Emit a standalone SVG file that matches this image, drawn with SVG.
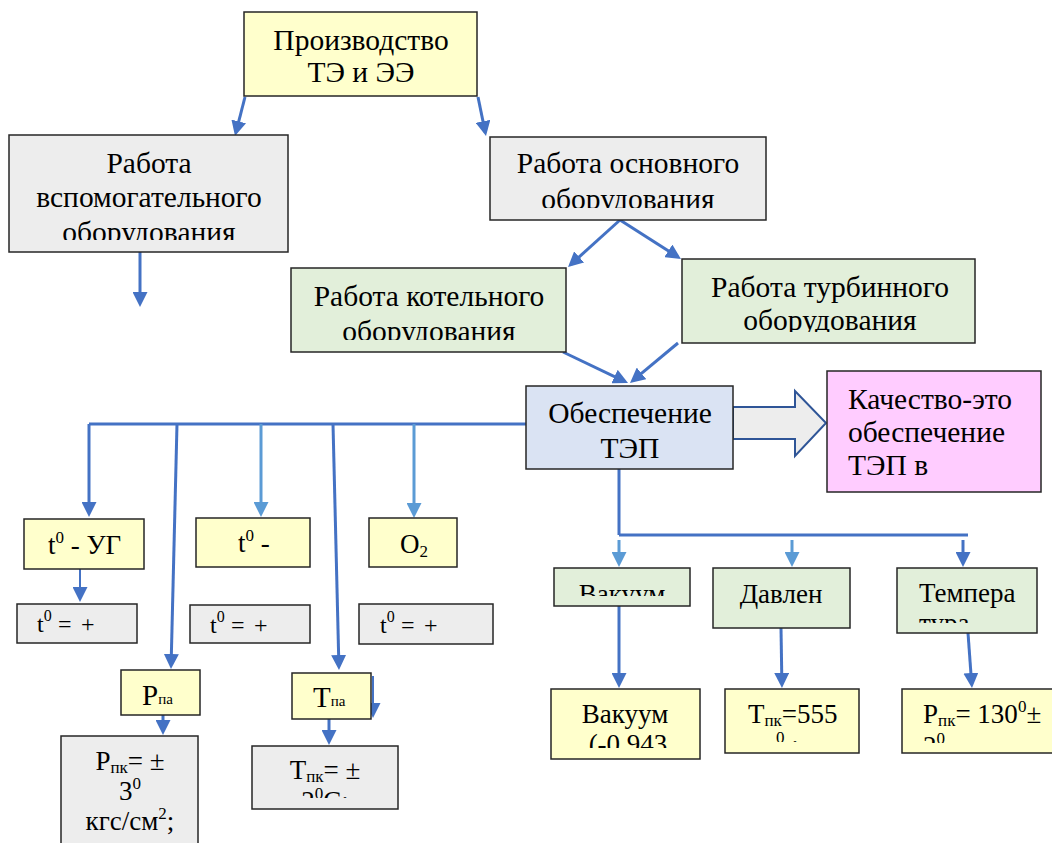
<svg xmlns="http://www.w3.org/2000/svg" width="1052" height="843" viewBox="0 0 1052 843">
<style>
.box{stroke:#262626;stroke-width:1.5}
.y{fill:#FFFFCC}.g{fill:#EDEDED}.gr{fill:#E2EFDA}.b{fill:#DAE3F3}.p{fill:#FFCCFF}
.c{stroke:#4472C4;stroke-width:3;fill:none;marker-end:url(#ad)}
.c2{stroke:#4472C4;stroke-width:2;fill:none;marker-end:url(#ad)}
.l{stroke:#5B9BD5;stroke-width:3;fill:none;marker-end:url(#al)}
.bus{stroke:#4472C4;stroke-width:3;fill:none}
</style>
<defs>
<marker id="ad" markerUnits="userSpaceOnUse" markerWidth="15" markerHeight="15" viewBox="0 0 15 15" refX="11" refY="7.5" orient="auto"><path d="M0,0L15,7.5L0,15z" fill="#4472C4"/></marker>
<marker id="al" markerUnits="userSpaceOnUse" markerWidth="15" markerHeight="15" viewBox="0 0 15 15" refX="11" refY="7.5" orient="auto"><path d="M0,0L15,7.5L0,15z" fill="#5B9BD5"/></marker>
<clipPath id="k2"><rect x="9" y="135" width="279" height="105"/></clipPath>
<clipPath id="k3"><rect x="490" y="137" width="276" height="71"/></clipPath>
<clipPath id="k4"><rect x="291" y="268" width="275" height="72"/></clipPath>
<clipPath id="k5"><rect x="682" y="259" width="293" height="73"/></clipPath>
<clipPath id="kv1"><rect x="554" y="568" width="136" height="28"/></clipPath>
<clipPath id="kt1"><rect x="897" y="568" width="140" height="55"/></clipPath>
<clipPath id="kv2"><rect x="551" y="689" width="149" height="59"/></clipPath>
<clipPath id="kt555"><rect x="725" y="689" width="134" height="53"/></clipPath>
<clipPath id="kp130"><rect x="902" y="689" width="150" height="54"/></clipPath>
<clipPath id="ktpk"><rect x="252" y="746" width="146" height="52"/></clipPath>
</defs>

<g id="connectors">
<path class="c" d="M245,97L236,132.1"/>
<path class="c" d="M478,97L485.2,132.1"/>
<path class="c" d="M140,252L140,303"/>
<path class="c" d="M620,220L571,264.3"/>
<path class="c" d="M620,220L677.6,256.8"/>
<path class="c" d="M563,352L624.4,381.3"/>
<path class="c" d="M678,343L633.1,380.4"/>
<path class="bus" d="M526,424L89,424"/>
<path class="c" d="M89,424L89,513"/>
<path class="c" d="M177,424L171.1,665"/>
<path class="l" d="M261,424L261,513"/>
<path class="c" d="M333,424L338.9,666"/>
<path class="l" d="M414,424L414,514"/>
<path class="c2" d="M80,569L80,598"/>
<path class="c" d="M163,715L163,731"/>
<path class="c2" d="M373,676L373,714"/>
<path class="c" d="M329,719L329,741"/>
<path class="bus" d="M619,469L619,535M619,535L968,535"/>
<path class="l" d="M619,540L619,563"/>
<path class="l" d="M792,540L792,563"/>
<path class="c" d="M963,540L963,563"/>
<path class="c" d="M619,606L619,684"/>
<path class="c" d="M781,628L781.9,684"/>
<path class="c" d="M968,633L971.7,684"/>
<path d="M733,407L795,407L795,391L826,423L795,456L795,439L733,439Z" fill="#EDEDED" stroke="#2F5597" stroke-width="2"/>
</g>

<g id="n1">
<rect class="box y" x="244" y="12" width="233" height="84"/>
<text font-family="Liberation Serif, serif" font-size="29.5" text-anchor="middle" x="361" y="50">Производство</text>
<text font-family="Liberation Serif, serif" font-size="29.5" text-anchor="middle" x="361" y="82">ТЭ и ЭЭ</text>
</g>
<g id="n2">
<rect class="box g" x="9" y="135" width="279" height="117"/>
<g clip-path="url(#k2)">
<text font-family="Liberation Serif, serif" font-size="29.5" text-anchor="middle" x="149" y="173">Работа</text>
<text font-family="Liberation Serif, serif" font-size="29.5" text-anchor="middle" x="149" y="207">вспомогательного</text>
<text font-family="Liberation Serif, serif" font-size="29.5" text-anchor="middle" x="149" y="242">оборудования</text>
</g>
</g>
<g id="n3">
<rect class="box g" x="490" y="137" width="276" height="83"/>
<g clip-path="url(#k3)">
<text font-family="Liberation Serif, serif" font-size="29.5" text-anchor="middle" x="628" y="173">Работа основного</text>
<text font-family="Liberation Serif, serif" font-size="29.5" text-anchor="middle" x="628" y="209">оборудования</text>
</g>
</g>
<g id="n4">
<rect class="box gr" x="291" y="268" width="275" height="84"/>
<g clip-path="url(#k4)">
<text font-family="Liberation Serif, serif" font-size="29.5" text-anchor="middle" x="429" y="306">Работа котельного</text>
<text font-family="Liberation Serif, serif" font-size="29.5" text-anchor="middle" x="429" y="341">оборудования</text>
</g>
</g>
<g id="n5">
<rect class="box gr" x="682" y="259" width="293" height="84"/>
<g clip-path="url(#k5)">
<text font-family="Liberation Serif, serif" font-size="29.5" text-anchor="middle" x="830" y="297">Работа турбинного</text>
<text font-family="Liberation Serif, serif" font-size="29.5" text-anchor="middle" x="830" y="330">оборудования</text>
</g>
</g>
<g id="n6">
<rect class="box b" x="526" y="386" width="207" height="83"/>
<text font-family="Liberation Serif, serif" font-size="29.5" text-anchor="middle" x="630" y="423">Обеспечение</text>
<text font-family="Liberation Serif, serif" font-size="29.5" text-anchor="middle" x="630" y="458">ТЭП</text>
</g>
<g id="n7">
<rect class="box p" x="827" y="371" width="214" height="121"/>
<text font-family="Liberation Serif, serif" font-size="29.5" x="848" y="409">Качество-это</text>
<text font-family="Liberation Serif, serif" font-size="29.5" x="848" y="442">обеспечение</text>
<text font-family="Liberation Serif, serif" font-size="29.5" x="848" y="475">ТЭП в</text>
</g>

<g id="n8">
<rect class="box y" x="24" y="519" width="120" height="50"/>
<text font-family="Liberation Serif, serif" font-size="27" x="48" y="554">t<tspan font-size="17" dy="-11">0</tspan><tspan dy="11"> - УГ</tspan></text>
</g>
<g id="n9">
<rect class="box y" x="196" y="518" width="114" height="49"/>
<text font-family="Liberation Serif, serif" font-size="27" x="238" y="552">t<tspan font-size="17" dy="-11">0</tspan><tspan dy="11"> -</tspan></text>
</g>
<g id="n10">
<rect class="box y" x="369" y="518" width="88" height="49"/>
<text font-family="Liberation Serif, serif" font-size="27" x="400" y="553">O<tspan font-size="17" dy="4">2</tspan></text>
</g>
<g id="n11">
<rect class="box g" x="17" y="604" width="120" height="39"/>
<text font-family="Liberation Serif, serif" font-size="24" x="37" y="632">t<tspan font-size="16" dy="-11">0</tspan><tspan x="58" dy="11">=</tspan><tspan x="81">+</tspan></text>
</g>
<g id="n12">
<rect class="box g" x="190" y="605" width="120" height="38"/>
<text font-family="Liberation Serif, serif" font-size="24" x="210" y="633">t<tspan font-size="16" dy="-11">0</tspan><tspan x="231" dy="11">=</tspan><tspan x="254">+</tspan></text>
</g>
<g id="n13">
<rect class="box g" x="359" y="604" width="134" height="40"/>
<text font-family="Liberation Serif, serif" font-size="24" x="380" y="633">t<tspan font-size="16" dy="-11">0</tspan><tspan x="401" dy="11">=</tspan><tspan x="424">+</tspan></text>
</g>
<g id="n14">
<rect class="box y" x="121" y="670" width="79" height="45"/>
<text font-family="Liberation Serif, serif" font-size="29" x="142" y="705">P<tspan font-size="15" dy="-1">па</tspan></text>
</g>
<g id="n15">
<rect class="box g" x="61" y="736" width="137" height="120"/>
<text font-family="Liberation Serif, serif" font-size="27" text-anchor="middle" x="130" y="770">P<tspan font-size="17" dy="3">пк</tspan><tspan dy="-3">= ±</tspan></text>
<text font-family="Liberation Serif, serif" font-size="27" text-anchor="middle" x="130" y="800">3<tspan font-size="17" dy="-11">0</tspan></text>
<text font-family="Liberation Serif, serif" font-size="27" text-anchor="middle" x="130" y="830">кгс/см<tspan font-size="17" dy="-11">2</tspan><tspan dy="11">;</tspan></text>
</g>
<g id="n16">
<rect class="box y" x="292" y="673" width="79" height="46"/>
<text font-family="Liberation Serif, serif" font-size="29" x="313" y="707">T<tspan font-size="15" dy="-1">па</tspan></text>
</g>
<g id="n17">
<rect class="box g" x="252" y="746" width="146" height="63"/>
<text font-family="Liberation Serif, serif" font-size="27" text-anchor="middle" x="325" y="779">T<tspan font-size="17" dy="3">пк</tspan><tspan dy="-3">= ±</tspan></text>
<g clip-path="url(#ktpk)">
<text font-family="Liberation Serif, serif" font-size="27" text-anchor="middle" x="325" y="810">2<tspan font-size="17" dy="-11">0</tspan><tspan dy="11">C;</tspan></text>
</g>
</g>

<g id="n18">
<rect class="box gr" x="554" y="568" width="136" height="38"/>
<g clip-path="url(#kv1)"><text font-family="Liberation Serif, serif" font-size="27" text-anchor="middle" x="622" y="603">Вакуум</text></g>
</g>
<g id="n19">
<rect class="box gr" x="713" y="568" width="137" height="60"/>
<text font-family="Liberation Serif, serif" font-size="27" text-anchor="middle" x="781" y="603">Давлен</text>
</g>
<g id="n20">
<rect class="box gr" x="897" y="568" width="140" height="65"/>
<g clip-path="url(#kt1)">
<text font-family="Liberation Serif, serif" font-size="27" x="919" y="602">Темпера</text>
<text font-family="Liberation Serif, serif" font-size="27" x="919" y="632">тура</text>
</g>
</g>
<g id="n21">
<rect class="box y" x="551" y="689" width="149" height="70"/>
<g clip-path="url(#kv2)">
<text font-family="Liberation Serif, serif" font-size="27" text-anchor="middle" x="625" y="723">Вакуум</text>
<text font-family="Liberation Serif, serif" font-size="27" text-anchor="middle" x="628" y="753">(-0,943</text>
</g>
</g>
<g id="n22">
<rect class="box y" x="725" y="689" width="134" height="64"/>
<g clip-path="url(#kt555)">
<text font-family="Liberation Serif, serif" font-size="27" x="748" y="723">T<tspan font-size="17" dy="3">пк</tspan><tspan dy="-3">=555</tspan></text>
<text font-family="Liberation Serif, serif" font-size="27" x="776" y="754"><tspan font-size="17" dy="-11">0</tspan><tspan dy="11"> ;</tspan></text>
</g>
</g>
<g id="n23">
<rect class="box y" x="902" y="689" width="160" height="64"/>
<g clip-path="url(#kp130)">
<text font-family="Liberation Serif, serif" font-size="27" x="923" y="723">P<tspan font-size="17" dy="3">пк</tspan><tspan dy="-3">= 130</tspan><tspan font-size="17" dy="-11">0</tspan><tspan dy="11">±</tspan></text>
<text font-family="Liberation Serif, serif" font-size="27" x="923" y="755">2<tspan font-size="17" dy="-11">0</tspan></text>
</g>
</g>
</svg>
